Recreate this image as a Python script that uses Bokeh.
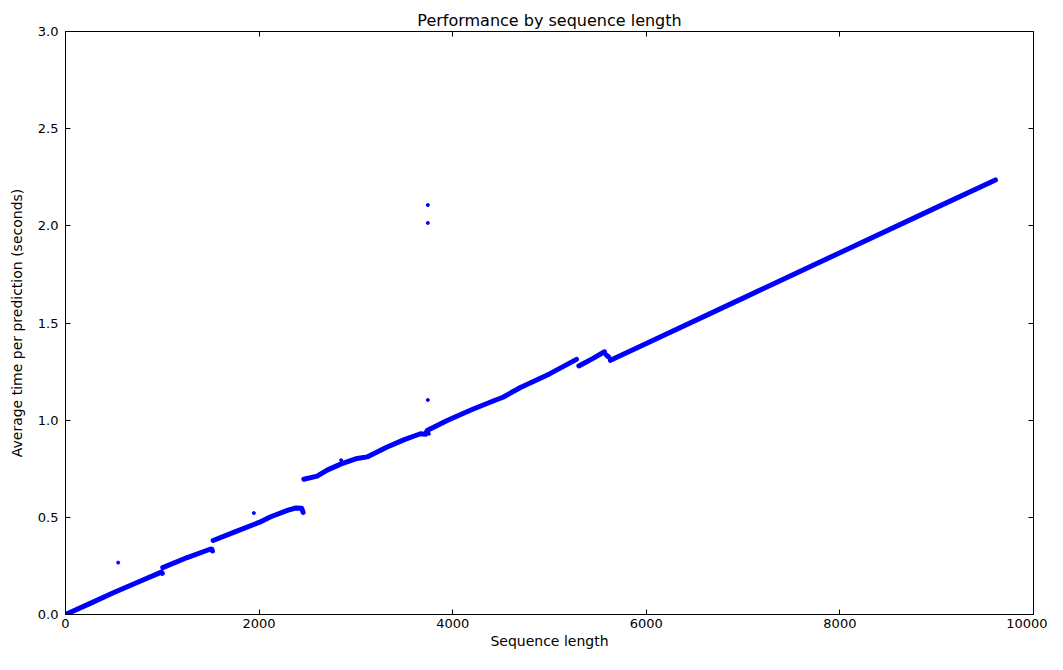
from bokeh.plotting import figure
from bokeh.models import LinearAxis, FixedTicker, Range1d, CustomJSTickFormatter
from bokeh.embed import file_html
from bokeh.resources import INLINE

# ---- data ----
seg1_x = [0, 250, 500, 740, 990, 1000]
seg1_y = [0.0, 0.056, 0.113, 0.165, 0.218, 0.212]
seg2_x = [1005, 1257, 1500, 1512, 1518]
seg2_y = [0.241, 0.293, 0.337, 0.336, 0.327]
seg3_x = [1525, 1750, 2000, 2120, 2300, 2380, 2440, 2455]
seg3_y = [0.381, 0.425, 0.474, 0.503, 0.537, 0.548, 0.547, 0.525]
seg4_x = [2462, 2600, 2703, 2848, 3013, 3116, 3323, 3500, 3667, 3720, 3736, 3943, 4200, 4425, 4520, 4700, 5000, 5279]
seg4_y = [0.696, 0.712, 0.743, 0.775, 0.803, 0.811, 0.862, 0.900, 0.930, 0.928, 0.947, 0.998, 1.055, 1.100, 1.118, 1.168, 1.238, 1.313]
seg5_x = [5303, 5450, 5568]
seg5_y = [1.279, 1.318, 1.352]
seg6_x = [5585, 5612]
seg6_y = [1.336, 1.325]
seg7_x = [5630, 6000, 7000, 8000, 9000, 9607]
seg7_y = [1.308, 1.395, 1.628, 1.862, 2.095, 2.236]

outlier_x = [544, 1946, 2848, 3743, 3743, 3743, 3754]
outlier_y = [0.267, 0.522, 0.794, 1.104, 2.015, 2.107, 0.930]

x_ticks = [0, 2000, 4000, 6000, 8000, 10000]
y_ticks = [0.0, 0.5, 1.0, 1.5, 2.0, 2.5, 3.0]

FONT = "DejaVu Sans"
BLUE = "#0000ff"

p = figure(width=1047, height=654, output_backend="svg", toolbar_location=None,
           x_range=Range1d(0, 10000), y_range=Range1d(0, 3.0),
           min_border_left=65, min_border_right=14, min_border_top=31, min_border_bottom=40)

p.title.text = "Performance by sequence length"
p.title.align = "center"
p.title.text_font = FONT
p.title.text_font_size = "16px"
p.title.text_font_style = "normal"
p.title.text_color = "black"
p.title.offset = 0
p.title.standoff = 4

p.xgrid.visible = False
p.ygrid.visible = False
p.outline_line_color = "black"
p.outline_line_width = 1
p.background_fill_color = "white"
p.border_fill_color = "white"

p.multi_line([seg1_x, seg2_x, seg3_x, seg4_x, seg5_x, seg6_x, seg7_x],
             [seg1_y, seg2_y, seg3_y, seg4_y, seg5_y, seg6_y, seg7_y],
             line_color=BLUE, line_width=5, line_cap="round", line_join="round")
p.scatter(outlier_x, outlier_y, size=3, color=BLUE, line_color=BLUE)

for ax in (p.xaxis[0], p.yaxis[0]):
    ax.major_tick_in = 5
    ax.major_tick_out = 0
    ax.minor_tick_in = 0
    ax.minor_tick_out = 0
    ax.axis_line_color = "black"
    ax.major_tick_line_color = "black"
    ax.major_label_text_font = FONT
    ax.major_label_text_font_size = "13px"
    ax.major_label_text_color = "black"
    ax.axis_label_text_font = FONT
    ax.axis_label_text_font_size = "14px"
    ax.axis_label_text_font_style = "normal"
    ax.axis_label_text_color = "black"

p.xaxis.ticker = FixedTicker(ticks=x_ticks)
p.yaxis.ticker = FixedTicker(ticks=y_ticks)
p.yaxis.formatter = CustomJSTickFormatter(code="return tick.toFixed(1);")
p.xaxis.axis_label = "Sequence length"
p.yaxis.axis_label = "Average time per prediction (seconds)"
p.xaxis.major_label_standoff = 4
p.yaxis.major_label_standoff = 7
p.xaxis.axis_label_standoff = 2
p.yaxis.axis_label_standoff = 10

blank = CustomJSTickFormatter(code="return '';")
top = LinearAxis(ticker=FixedTicker(ticks=x_ticks), formatter=blank,
                 major_tick_in=5, major_tick_out=0, minor_tick_in=0, minor_tick_out=0,
                 major_label_standoff=0, axis_line_color="black")
right = LinearAxis(ticker=FixedTicker(ticks=y_ticks), formatter=blank,
                   major_tick_in=5, major_tick_out=0, minor_tick_in=0, minor_tick_out=0,
                   major_label_standoff=0, axis_line_color="black")
p.add_layout(top, "above")
p.add_layout(right, "right")

open("out.html", "w").write(file_html(p, INLINE))
